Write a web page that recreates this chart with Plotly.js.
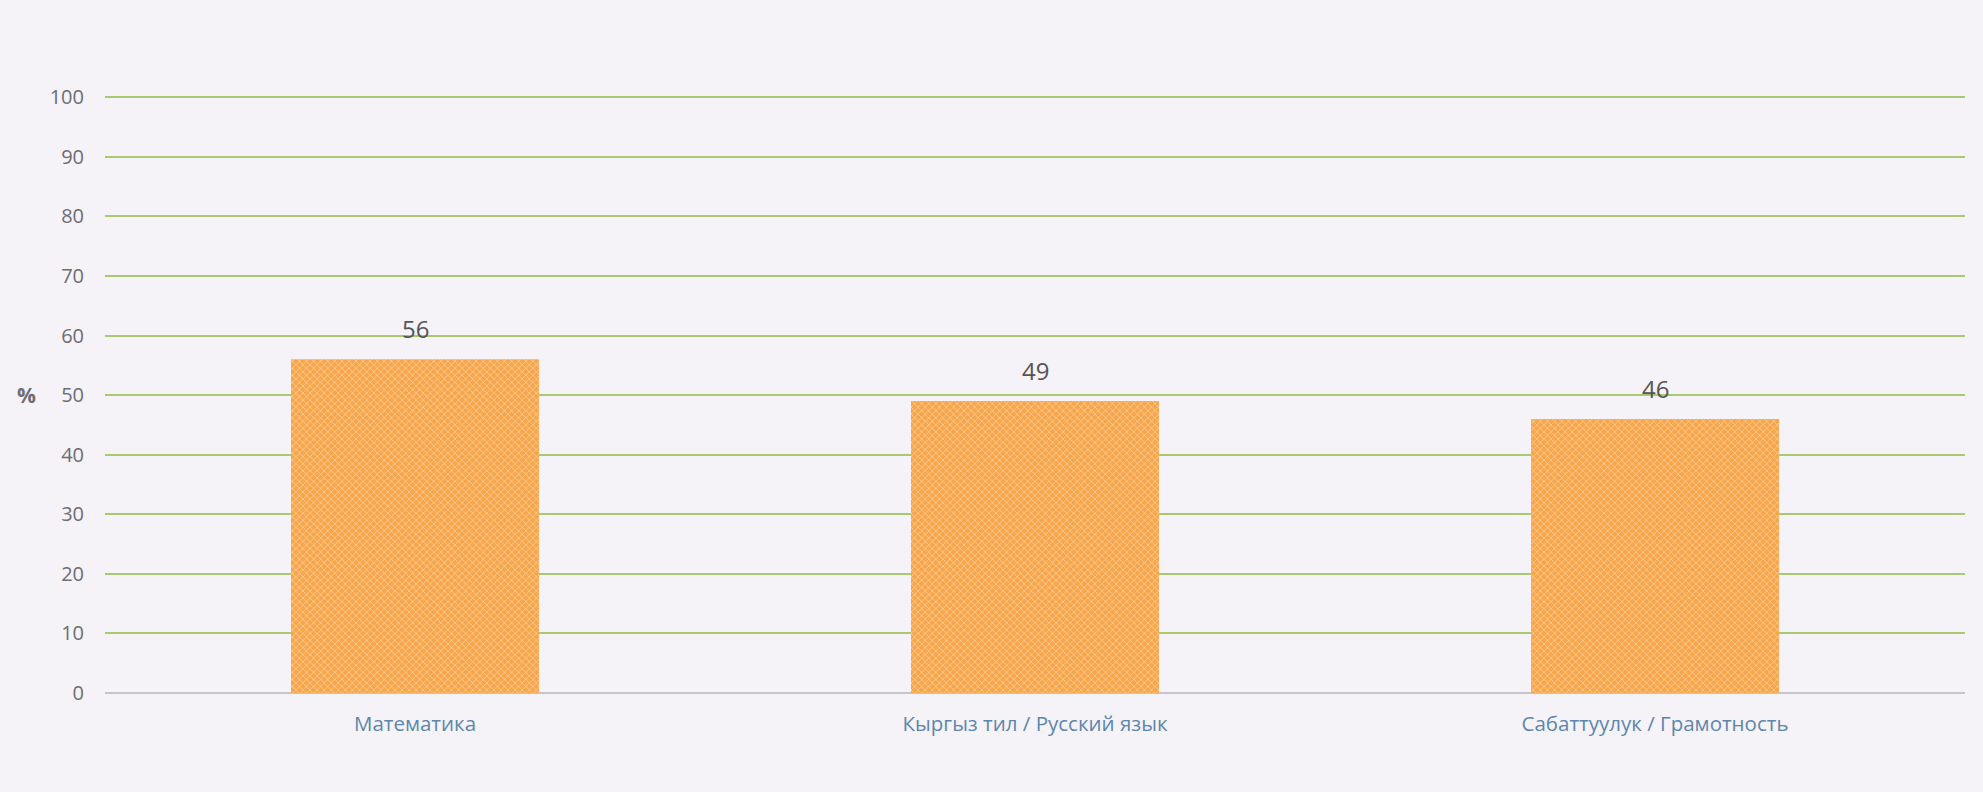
<!DOCTYPE html>
<html>
<head>
<meta charset="utf-8">
<script src="https://cdn.plot.ly/plotly-3.0.1.min.js"></script>
<style>
html,body{margin:0;padding:0;background:#f5f3f8;}
#chart{width:1983px;height:792px;}
</style>
</head>
<body>
<div id="chart"></div>
<script>
const categories = ["Математика", "Кыргыз тил / Русский язык", "Сабаттуулук / Грамотность"];
const values = [56, 49, 46];
const tickValues = [0, 10, 20, 30, 40, 50, 60, 70, 80, 90, 100];
const unitLabel = "%";

const trace = {
  type: "bar",
  x: categories,
  y: values,
  width: 0.4,
  marker: {
    color: "#f8aa55",
    pattern: {shape: "x", fgcolor: "#fcd6a8", bgcolor: "#f7a64c", size: 5, solidity: 0.25, fillmode: "replace"},
    line: {width: 0}
  },
  hoverinfo: "none"
};

const annotations = categories.map((c, i) => ({
  x: c, y: values[i], xref: "x", yref: "y",
  text: String(values[i]), showarrow: false,
  yanchor: "bottom", yshift: 12,
  font: {family: "Open Sans, sans-serif", size: 24, color: "#555555"}
}));
annotations.push({
  xref: "paper", yref: "y", x: -0.042, y: 50, text: "<b>" + unitLabel + "</b>",
  showarrow: false, xanchor: "center", yanchor: "middle",
  font: {family: "Open Sans, sans-serif", size: 21, color: "#6d6d72"}
});

const layout = {
  width: 1983, height: 792,
  margin: {l: 105, r: 18, t: 96, b: 99},
  paper_bgcolor: "#f5f3f8",
  plot_bgcolor: "#f5f3f8",
  showlegend: false,
  bargap: 0.6,
  xaxis: {
    type: "category",
    showgrid: false,
    zeroline: false,
    showline: false,
    ticks: "",
    ticklabelstandoff: 16,
    tickfont: {family: "Open Sans, sans-serif", size: 20.5, color: "#5d86ae"}
  },
  yaxis: {
    range: [0, 100.2],
    tickvals: tickValues,
    ticktext: tickValues.map(String),
    showgrid: true,
    gridcolor: "#a9c96e",
    gridwidth: 2,
    zeroline: true,
    zerolinecolor: "#c8c4cc",
    zerolinewidth: 2,
    showline: false,
    ticks: "",
    ticklabelstandoff: 20,
    tickfont: {family: "Open Sans, sans-serif", size: 20, color: "#6d6d72"}
  },
  annotations: annotations
};

Plotly.newPlot("chart", [trace], layout, {displayModeBar: false, staticPlot: true});
</script>
</body>
</html>
